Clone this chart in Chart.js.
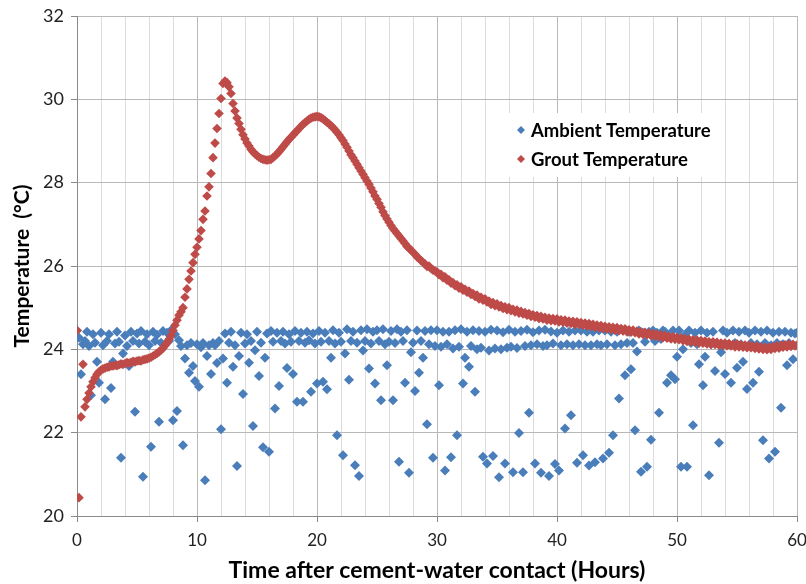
<!DOCTYPE html>
<html>
<head>
<meta charset="utf-8">
<script src="https://cdn.jsdelivr.net/npm/chart.js@4.4.1/dist/chart.umd.min.js"></script>
<style>
  html, body { margin: 0; padding: 0; background: #fff; }
</style>
</head>
<body>
<canvas id="temp-chart" width="806" height="584"></canvas>
<script>
// Logger readings, one value every 10 minutes from cement-water contact (0 h to 60 h)
const sampleMinutes = 10;
const seriesLabels = ['Ambient Temperature', 'Grout Temperature'];

// one row per hour, 6 readings each
const ambientTemps = [
    24.45, 24.28, 23.4, 24.12, 24.2, 24.42,
    24.08, 22.9, 24.36, 24.16, 23.7, 23.2,
    24.4, 24.1, 22.8, 24.2, 24.36, 23.07,
    23.7, 24.14, 24.42, 24.18, 21.4, 23.9,
    24.33, 24.08, 23.6, 24.42, 24.2, 22.5,
    24.38, 24.14, 24.44, 20.94, 24.18, 24.36,
    24.1, 21.66, 24.42, 24.2, 24.35, 22.26,
    24.16, 24.44, 24.12, 24.4, 24.2, 24.46,
    22.3, 24.36, 22.52, 24.22, 24.08, 21.7,
    23.78, 24.1, 23.44, 24.15, 23.6, 23.24,
    24.12, 23.1, 24.05, 24.15, 20.86, 23.84,
    24.1, 23.41, 24.15, 24.1, 23.67, 24.2,
    22.08, 23.78, 24.38, 23.2, 24.16, 24.42,
    23.58, 24.1, 21.2, 23.84, 24.4, 22.93,
    24.14, 24.36, 23.68, 24.2, 22.16, 23.98,
    24.42, 23.36, 24.16, 21.65, 23.8, 24.38,
    21.54, 24.44, 24.18, 22.58, 24.4, 23.12,
    24.2, 24.42, 24.14, 23.55, 24.36, 24.18,
    23.41, 24.44, 22.74, 24.2, 24.4, 22.74,
    24.16, 24.42, 24.22, 22.98, 24.38, 24.14,
    23.18, 24.44, 24.18, 23.22, 24.4, 23.04,
    24.2, 23.8, 24.46, 24.14, 21.94, 24.4,
    24.18, 21.46, 23.9, 24.48, 23.27, 24.2,
    24.42, 21.22, 24.16, 20.96, 24.46, 23.97,
    24.2, 24.48, 23.54, 24.14, 24.42, 23.18,
    24.46, 24.2, 22.78, 24.48, 24.12, 23.62,
    24.18, 24.44, 22.78, 24.15, 24.48, 21.3,
    24.42, 24.2, 23.2, 24.46, 21.04, 23.93,
    24.16, 23.0, 24.45, 23.44, 24.2, 23.8,
    24.44, 22.2, 24.12, 24.46, 21.4, 24.08,
    24.46, 23.14, 24.06, 24.42, 21.09, 24.12,
    24.42, 21.41, 24.02, 24.46, 21.94, 24.06,
    24.48, 23.18, 23.8, 24.42, 23.58, 24.08,
    24.46, 22.98, 24.0, 24.44, 24.04, 21.42,
    24.42, 21.26, 23.97, 24.47, 21.44, 24.02,
    24.45, 20.93, 24.0, 24.41, 21.26, 24.04,
    24.47, 24.06, 21.05, 24.42, 24.03, 21.99,
    24.44, 21.05, 24.08, 24.47, 22.48, 24.1,
    24.41, 21.26, 24.12, 24.45, 21.04, 24.08,
    24.47, 24.1, 20.96, 24.43, 24.14, 21.25,
    24.4, 21.09, 24.1, 24.45, 22.1, 24.12,
    24.42, 22.42, 24.1, 24.45, 21.28, 24.12,
    24.45, 21.46, 24.1, 24.42, 21.21, 24.1,
    24.42, 21.29, 24.12, 24.45, 24.1, 21.38,
    24.45, 24.12, 21.52, 24.42, 21.94, 24.1,
    24.42, 22.82, 24.12, 24.45, 23.38, 24.15,
    24.42, 23.52, 24.15, 22.06, 23.95, 24.45,
    21.06, 24.4, 24.18, 21.18, 24.42, 21.83,
    24.45, 24.2, 24.4, 22.48, 24.25, 24.45,
    24.42, 23.2, 24.3, 23.38, 24.45, 23.28,
    23.82, 24.45, 21.18, 24.0, 24.35, 21.18,
    24.45, 24.15, 22.18, 24.4, 24.12, 23.64,
    24.45, 23.14, 23.82, 24.4, 20.98, 24.12,
    24.42, 23.48, 24.15, 21.76, 23.93, 24.45,
    23.41, 24.4, 24.12, 23.2, 24.45, 24.15,
    23.56, 24.42, 24.12, 23.7, 24.45, 23.05,
    24.4, 24.15, 23.2, 24.45, 24.12, 23.46,
    24.42, 21.82, 24.15, 24.45, 21.38, 24.1,
    24.4, 21.54, 24.15, 24.42, 22.6, 24.12,
    24.42, 23.62, 24.15, 24.4, 23.76, 24.38,
    24.4
];

const groutTemps = [
    24.45, 20.44, 22.38, 23.64, 22.62, 22.8,
    22.95, 23.1, 23.22, 23.32, 23.4, 23.46,
    23.5, 23.53, 23.55, 23.57, 23.58, 23.6,
    23.6, 23.62, 23.61, 23.63, 23.65, 23.64,
    23.66, 23.68, 23.67, 23.69, 23.71, 23.7,
    23.72, 23.73, 23.72, 23.75, 23.76, 23.77,
    23.79, 23.81, 23.84, 23.87, 23.9, 23.94,
    23.98, 24.03, 24.09, 24.16, 24.24, 24.33,
    24.45, 24.58, 24.7, 24.82, 24.9, 25.0,
    25.25, 25.45, 25.68, 25.88, 26.08, 26.28,
    26.45, 26.65, 26.85, 27.12, 27.32, 27.68,
    27.9, 28.22, 28.6, 28.95, 29.3, 29.66,
    30.02, 30.38, 30.44, 30.4, 30.3, 30.14,
    29.9, 29.72, 29.55, 29.42, 29.28, 29.15,
    29.05, 28.95, 28.88, 28.8, 28.74, 28.69,
    28.65, 28.61, 28.58, 28.56, 28.55, 28.54,
    28.55, 28.56, 28.6, 28.64, 28.69, 28.74,
    28.8, 28.86, 28.92, 28.98, 29.04, 29.09,
    29.14, 29.2, 29.24, 29.3, 29.35, 29.4,
    29.44, 29.48, 29.52, 29.55, 29.57, 29.58,
    29.59, 29.58, 29.56, 29.53, 29.49, 29.45,
    29.41, 29.37, 29.32, 29.27, 29.21, 29.15,
    29.08, 29.01, 28.93, 28.85, 28.76, 28.67,
    28.6, 28.52, 28.44, 28.36, 28.28, 28.2,
    28.12, 28.04, 27.96, 27.87, 27.78, 27.68,
    27.6, 27.5, 27.41, 27.3, 27.21, 27.13,
    27.05, 26.97, 26.9, 26.84, 26.78, 26.72,
    26.66, 26.6, 26.54, 26.47, 26.43, 26.38,
    26.33, 26.28, 26.22, 26.18, 26.13, 26.09,
    26.05, 25.99, 26.0, 25.94, 25.9, 25.88,
    25.86, 25.79, 25.8, 25.72, 25.74, 25.66,
    25.67, 25.59, 25.6, 25.53, 25.55, 25.47,
    25.5, 25.42, 25.44, 25.37, 25.4, 25.32,
    25.34, 25.27, 25.3, 25.21, 25.25, 25.18,
    25.21, 25.14, 25.16, 25.08, 25.12, 25.05,
    25.09, 25.02, 25.05, 24.98, 25.02, 24.95,
    25.0, 24.93, 24.96, 24.9, 24.94, 24.87,
    24.91, 24.85, 24.88, 24.82, 24.86, 24.79,
    24.83, 24.77, 24.81, 24.74, 24.79, 24.73,
    24.77, 24.7, 24.75, 24.69, 24.74, 24.68,
    24.73, 24.66, 24.71, 24.65, 24.7, 24.63,
    24.68, 24.62, 24.67, 24.6, 24.66, 24.6,
    24.64, 24.58, 24.63, 24.56, 24.62, 24.55,
    24.6, 24.53, 24.58, 24.52, 24.57, 24.5,
    24.55, 24.49, 24.54, 24.48, 24.53, 24.46,
    24.52, 24.45, 24.5, 24.44, 24.49, 24.42,
    24.47, 24.41, 24.46, 24.4, 24.44, 24.37,
    24.42, 24.36, 24.41, 24.35, 24.39, 24.33,
    24.38, 24.32, 24.36, 24.3, 24.35, 24.28,
    24.33, 24.27, 24.31, 24.25, 24.3, 24.24,
    24.29, 24.23, 24.27, 24.21, 24.26, 24.19,
    24.24, 24.18, 24.23, 24.17, 24.22, 24.15,
    24.21, 24.15, 24.2, 24.13, 24.18, 24.12,
    24.18, 24.12, 24.17, 24.1, 24.15, 24.09,
    24.15, 24.09, 24.14, 24.08, 24.12, 24.06,
    24.13, 24.06, 24.11, 24.05, 24.1, 24.04,
    24.1, 24.04, 24.08, 24.02, 24.07, 24.01,
    24.06, 24.0, 24.05, 23.99, 24.04, 24.0,
    24.07, 24.02, 24.08, 24.03, 24.1, 24.05,
    24.11, 24.06, 24.12, 24.07, 24.12, 24.08,
    24.1
];

const BLUE = '#4A7EBB';
const RED = '#BE4B48';
const FONT = "'Lato', 'Open Sans', sans-serif";

// reading index -> hours since contact
const toPoints = (temps) => temps.map((t, i) => ({ x: i * sampleMinutes / 60, y: t }));

// Excel-style legend panel sitting inside the plot area
const legendPanel = {
    id: 'legendPanel',
    afterDraw(chart) {
        const { ctx, chartArea } = chart;
        const left = chartArea.left + 426;
        const top = chartArea.top + 97;
        ctx.save();
        ctx.fillStyle = '#ffffff';
        ctx.fillRect(left, top, 214, 64);
        ctx.font = `bold 18.5px ${FONT}`;
        ctx.textBaseline = 'middle';
        const order = [1, 0];
        order.forEach((dsIndex, row) => {
            const ds = chart.data.datasets[dsIndex];
            const cy = top + 17 + row * 29;
            const cx = left + 18;
            ctx.fillStyle = ds.backgroundColor;
            ctx.beginPath();
            ctx.moveTo(cx - 4, cy);
            ctx.lineTo(cx, cy - 4);
            ctx.lineTo(cx + 4, cy);
            ctx.lineTo(cx, cy + 4);
            ctx.closePath();
            ctx.fill();
            ctx.fillStyle = '#000';
            ctx.fillText(ds.label, left + 28, cy + 1);
        });
        ctx.restore();
    }
};

const ctx = document.getElementById('temp-chart').getContext('2d');
new Chart(ctx, {
    type: 'scatter',
    data: {
        datasets: [
            {
                label: seriesLabels[1],
                data: toPoints(groutTemps),
                backgroundColor: RED,
                borderColor: RED,
                borderWidth: 0,
                pointStyle: 'rectRot',
                pointRadius: 4.8,
                order: 0
            },
            {
                label: seriesLabels[0],
                data: toPoints(ambientTemps),
                backgroundColor: BLUE,
                borderColor: BLUE,
                borderWidth: 0,
                pointStyle: 'rectRot',
                pointRadius: 5,
                order: 1
            }
        ]
    },
    options: {
        responsive: false,
        animation: false,
        layout: { padding: { top: 16, right: 9, left: 0, bottom: 0 } },
        plugins: {
            legend: { display: false },
            tooltip: { enabled: false }
        },
        scales: {
            x: {
                type: 'linear',
                min: 0,
                max: 60,
                afterFit: (s) => {
                    s.height = 68;
                    s.paddingLeft = 0;
                    s.paddingRight = 0;
                },
                ticks: {
                    stepSize: 2,
                    autoSkip: false,
                    maxRotation: 0,
                    padding: 8,
                    color: '#222',
                    font: { family: FONT, size: 17 },
                    callback: (v) => (v % 10 === 0 ? v : '')
                },
                grid: {
                    color: (c) => (c.tick && c.tick.value % 10 === 0 ? '#b8b8b8' : '#dcdcdc'),
                    tickColor: (c) => (c.tick && c.tick.value % 10 === 0 ? '#8a8a8a' : 'rgba(0,0,0,0)'),
                    tickLength: 6
                },
                border: { color: '#8a8a8a' },
                title: {
                    display: true,
                    text: 'Time after cement-water contact (Hours)',
                    color: '#000',
                    font: { family: FONT, size: 23, weight: 'bold' },
                    padding: { top: 0, bottom: 0 }
                }
            },
            y: {
                min: 20,
                max: 32,
                afterFit: (s) => {
                    s.width = 77;
                    s.paddingTop = 0;
                    s.paddingBottom = 0;
                },
                ticks: {
                    stepSize: 2,
                    padding: 7,
                    color: '#222',
                    font: { family: FONT, size: 18 }
                },
                grid: {
                    color: '#b8b8b8',
                    tickColor: '#8a8a8a',
                    tickLength: 6
                },
                border: { color: '#8a8a8a' },
                title: {
                    display: true,
                    text: 'Temperature  (°C)',
                    color: '#000',
                    font: { family: FONT, size: 21, weight: 'bold' },
                    padding: { top: 10, bottom: 0 }
                }
            }
        }
    },
    plugins: [legendPanel]
});
</script>
</body>
</html>
